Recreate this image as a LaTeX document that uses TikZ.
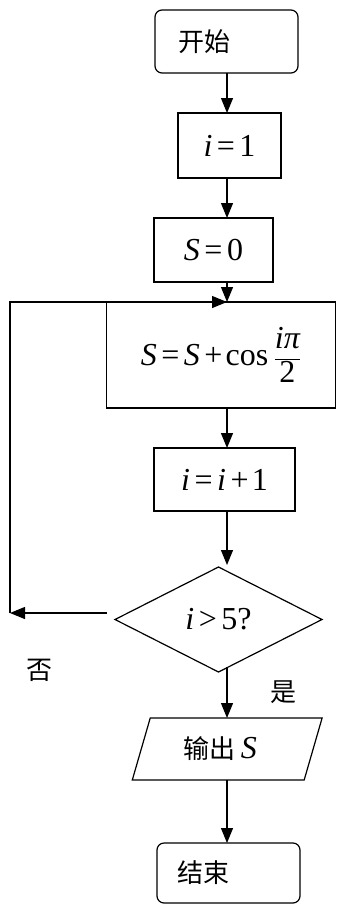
\documentclass[tikz,border=0pt]{standalone}
\usepackage{fontspec}
\newfontfamily\cjk{Noto Sans CJK SC}
\newfontfamily\tnr{Liberation Serif}
\usetikzlibrary{arrows.meta,shapes.geometric}
\newcommand{\vI}{{\itshape i}}
\newcommand{\vS}{{\itshape S}}
\newcommand{\eqs}{\hspace{0.14em}=\hspace{0.14em}}
\newcommand{\pls}{\hspace{0.14em}+\hspace{0.1em}}
\newcommand{\padR}[1]{\rule{#1}{0pt}}
\begin{document}
\begin{tikzpicture}[x=1pt,y=-1pt,
  every node/.style={inner sep=0pt, outer sep=0pt},
  box/.style={draw, line width=1.2pt, font=\tnr\fontsize{32}{36}\selectfont},
  rbox/.style={box, rounded corners=7pt, font=\cjk\fontsize{26}{30}\selectfont},
  arr/.style={line width=1.2pt, -{Triangle[length=15pt,width=12pt]}},
  lbl/.style={font=\cjk\fontsize{26}{30}\selectfont}]
\useasboundingbox (0,0) rectangle (337,905);
\coordinate (X) at (227,0);

\node[rbox, minimum width=143pt, minimum height=63pt] (start) at (226.5,41.5) {开始\padR{45pt}};
\node[box, minimum width=103pt, minimum height=65pt] (i1) at (229.5,145.5) {\vI\eqs 1};
\node[box, minimum width=119pt, minimum height=64pt] (s0) at (213.5,250) {\vS\eqs 0};
\node[box, minimum width=229pt, minimum height=106pt] (loop) at (221,355) {\vS\eqs\vS\pls cos\,$\displaystyle\frac{\mbox{\tnr\itshape iπ}}{\mbox{\tnr 2}}$};
\node[box, minimum width=141pt, minimum height=63pt] (inc) at (224.5,479.5) {\vI\eqs\vI\pls 1};
\node[box, shape=diamond, minimum width=207pt, minimum height=105pt] (dia) at (218.5,619.5) {\vI\hspace{0.14em}>\hspace{0.14em}5?};
\node[box, shape=trapezium, trapezium left angle=67, trapezium right angle=113, trapezium stretches=true, minimum width=190pt, minimum height=62pt] (out) at (227.2,749) {{\cjk\fontsize{26}{30}\selectfont 输出}\,\vS\padR{14pt}};
\node[rbox, minimum width=143pt, minimum height=60pt] (end) at (228.5,873) {结束\padR{50pt}};

\node[lbl] (no) at (40,670) {否};
\node[lbl] (yes) at (283,692) {是};

\coordinate (J) at (227,302);
\coordinate (nostart) at (107,613);
\coordinate (L1) at (10,613);
\coordinate (L2) at (10,302);

\draw[arr] (start.south -| X) -- (i1.north -| X);
\draw[arr] (i1.south -| X) -- (s0.north -| X);
\draw[arr] (s0.south -| X) -- (J);
\draw[arr] (loop.south -| X) -- (inc.north -| X);
\draw[arr] (inc.south -| X) -- ([yshift=2pt]dia.north -| X);
\draw[arr] ([yshift=5pt]dia.south -| X) -- (out.north -| X);
\draw[arr] (out.south -| X) -- (end.north -| X);
\draw[arr] (nostart) -- (L1);
\draw[arr] (L1) -- (L2) -- (J);
\end{tikzpicture}
\end{document}
